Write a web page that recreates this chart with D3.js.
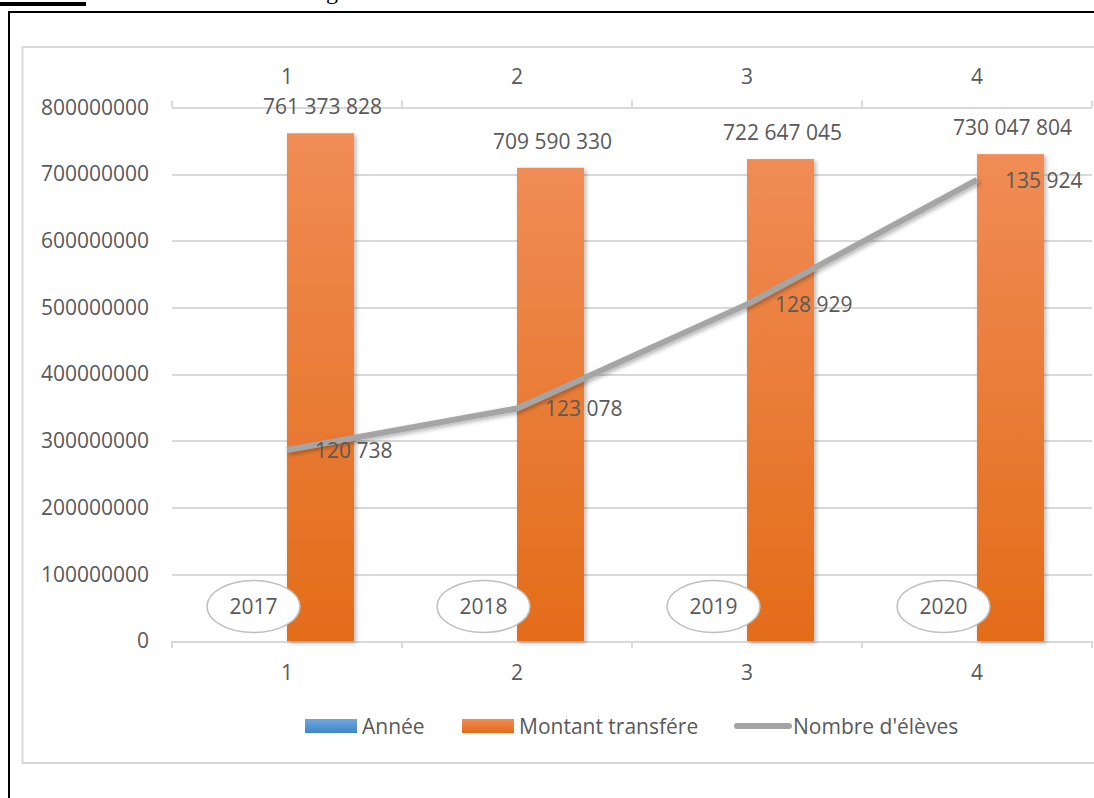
<!DOCTYPE html>
<html>
<head>
<meta charset="utf-8">
<script src="https://cdn.jsdelivr.net/npm/d3@7"></script>
<style>
  body { margin: 0; background: #fff; }
  svg text { font-family: "Open Sans", "Liberation Sans", sans-serif; fill: #595959; }
</style>
</head>
<body>
<svg id="chart" width="1094" height="798"></svg>
<script>
// data
var categories = ['1', '2', '3', '4'];
var years = [2017, 2018, 2019, 2020];
var montant = [761373828, 709590330, 722647045, 730047804];
var eleves = [120738, 123078, 128929, 135924];
var yTicks = [0, 100000000, 200000000, 300000000, 400000000, 500000000, 600000000, 700000000, 800000000];
var seriesNames = ['Année', 'Montant transfére', "Nombre d'élèves"];

var fmt = function(v) { return d3.format(',')(v).replace(/,/g, ' '); };

var svg = d3.select('#chart'),
	margin = {top: 107.5, right: 2, bottom: 157, left: 172},
	width = +svg.attr('width') - margin.left - margin.right,
	height = +svg.attr('height') - margin.top - margin.bottom;

var defs = svg.append('defs');
var og = defs.append('linearGradient').attr('id', 'orange').attr('x1', 0).attr('y1', 0).attr('x2', 0).attr('y2', 1);
og.append('stop').attr('offset', '0%').attr('stop-color', '#f08c55');
og.append('stop').attr('offset', '100%').attr('stop-color', '#e36c19');
var bg = defs.append('linearGradient').attr('id', 'blue').attr('x1', 0).attr('y1', 0).attr('x2', 0).attr('y2', 1);
bg.append('stop').attr('offset', '0%').attr('stop-color', '#6ea7dd');
bg.append('stop').attr('offset', '100%').attr('stop-color', '#3f86c8');
var sh = defs.append('filter').attr('id', 'shadow').attr('x', '-20%').attr('y', '-20%').attr('width', '140%').attr('height', '140%');
sh.append('feDropShadow').attr('dx', 2).attr('dy', 2).attr('stdDeviation', 2).attr('flood-color', '#000').attr('flood-opacity', 0.3);

// page decorations (document frame around the chart)
svg.append('rect').attr('x', 0).attr('y', 2).attr('width', 86).attr('height', 4).attr('fill', '#000');
svg.append('text').attr('x', 326).attr('y', -1)
	.style('font-family', '"Liberation Serif", serif').style('fill', '#000').attr('font-size', 24).text('g');
svg.append('path').attr('d', 'M9,798V12H1094').attr('fill', 'none').attr('stroke', '#000').attr('stroke-width', 2);
svg.append('rect').attr('x', 22.5).attr('y', 47).attr('width', 1100).attr('height', 716)
	.attr('fill', '#fff').attr('stroke', '#d9d9d9').attr('stroke-width', 2);

var x = d3.scaleBand().domain(categories).range([0, width]).padding(0),
	x1 = d3.scaleBand().domain([0, 1]).range([0, x.bandwidth()]).paddingOuter(0.716).paddingInner(0),
	y = d3.scaleLinear().domain([0, 800000000]).range([height, 0]),
	y2 = d3.scaleLinear().domain([110000, 140000]).range([height, 0]);

var g = svg.append('g')
	.attr('transform', 'translate(' + margin.left + ',' + margin.top + ')');

// gridlines
g.append('g').selectAll('line')
	.data(yTicks)
	.enter().append('line')
	.attr('x1', 0).attr('x2', width)
	.attr('y1', function(d) { return Math.round(y(d)) + 0.5; })
	.attr('y2', function(d) { return Math.round(y(d)) + 0.5; })
	.attr('stroke', '#d9d9d9').attr('stroke-width', 2);

// y axis labels
var yAxis = g.append('g')
	.call(d3.axisLeft(y).tickValues(yTicks).tickSize(0).tickPadding(23).tickFormat(d3.format('d')));
yAxis.select('.domain').remove();
yAxis.selectAll('text').attr('font-size', 21).style('fill', '#595959');

// bottom axis
var xAxis = g.append('g')
	.attr('transform', 'translate(0,' + height + ')')
	.call(d3.axisBottom(x).tickSize(0).tickPadding(24));
xAxis.select('.domain').remove();
xAxis.selectAll('text').attr('font-size', 21).style('fill', '#595959');
var bounds = categories.map(function(d) { return x(d); }).concat([width]);
g.append('line').attr('x1', 0).attr('x2', width).attr('y1', height + 1).attr('y2', height + 1)
	.attr('stroke', '#d9d9d9').attr('stroke-width', 2);
g.append('g').selectAll('line').data(bounds).enter().append('line')
	.attr('x1', function(d) { return d; }).attr('x2', function(d) { return d; })
	.attr('y1', height).attr('y2', height + 7)
	.attr('stroke', '#d9d9d9').attr('stroke-width', 2);

// top (secondary) axis
var xTop = g.append('g')
	.call(d3.axisTop(x).tickSize(0).tickPadding(24));
xTop.select('.domain').remove();
xTop.selectAll('text').attr('font-size', 21).style('fill', '#595959');
g.append('g').selectAll('line').data(bounds).enter().append('line')
	.attr('x1', function(d) { return d; }).attr('x2', function(d) { return d; })
	.attr('y1', 0).attr('y2', -7)
	.attr('stroke', '#d9d9d9').attr('stroke-width', 2);

// bars
var groups = g.selectAll('.cat')
	.data(categories)
	.enter().append('g')
	.attr('class', 'cat')
	.attr('transform', function(d) { return 'translate(' + x(d) + ',0)'; });

groups.append('rect')
	.attr('fill', 'url(#blue)')
	.attr('x', x1(0))
	.attr('width', x1.bandwidth())
	.attr('y', function(d, i) { return y(years[i]); })
	.attr('height', function(d, i) { return height - y(years[i]); });

groups.append('rect')
	.attr('fill', 'url(#orange)')
	.attr('filter', 'url(#shadow)')
	.attr('x', x1(1))
	.attr('width', x1.bandwidth())
	.attr('y', function(d, i) { return y(montant[i]); })
	.attr('height', function(d, i) { return height - y(montant[i]); });

groups.append('text')
	.attr('x', x1(1) + x1.bandwidth() / 2 + 2)
	.attr('y', function(d, i) { return y(montant[i]) - 19; })
	.attr('text-anchor', 'middle')
	.attr('font-size', 21)
	.text(function(d, i) { return fmt(montant[i]); });

// line
var line = d3.line()
	.x(function(d, i) { return x(categories[i]) + x.bandwidth() / 2; })
	.y(function(d) { return y2(d); });

g.append('path')
	.datum(eleves)
	.attr('fill', 'none')
	.attr('stroke', '#a5a5a5')
	.attr('stroke-width', 6)
	.attr('stroke-linejoin', 'round')
	.attr('filter', 'url(#shadow)')
	.attr('d', line);

g.selectAll('.lbl')
	.data(eleves)
	.enter().append('text')
	.attr('class', 'lbl')
	.attr('x', function(d, i) { return x(categories[i]) + x.bandwidth() / 2 + 28; })
	.attr('y', function(d) { return y2(d) + 8; })
	.attr('font-size', 21)
	.text(function(d) { return fmt(d); });

// year ellipses
var ell = groups.append('g')
	.attr('transform', function(d, i) { return 'translate(' + (x1(0) + x1.bandwidth() / 2) + ',' + (y(years[i]) - 34.5) + ')'; });
ell.append('ellipse').attr('rx', 46.5).attr('ry', 26)
	.attr('fill', '#fff').attr('stroke', '#bfbfbf').attr('stroke-width', 1.5);
ell.append('text').attr('text-anchor', 'middle').attr('y', 8).attr('font-size', 21)
	.text(function(d, i) { return years[i]; });

// legend
var legend = svg.append('g').attr('transform', 'translate(0,726)');
legend.append('rect').attr('x', 305).attr('y', -7).attr('width', 52).attr('height', 14).attr('fill', 'url(#blue)');
legend.append('text').attr('x', 362).attr('y', 7.5).attr('font-size', 21).text(seriesNames[0]);
legend.append('rect').attr('x', 462).attr('y', -7).attr('width', 52).attr('height', 14).attr('fill', 'url(#orange)');
legend.append('text').attr('x', 519).attr('y', 7.5).attr('font-size', 21).text(seriesNames[1]);
legend.append('line').attr('x1', 737).attr('x2', 789).attr('y1', 0).attr('y2', 0)
	.attr('stroke', '#a5a5a5').attr('stroke-width', 6).attr('stroke-linecap', 'round');
legend.append('text').attr('x', 793).attr('y', 7.5).attr('font-size', 21).text(seriesNames[2]);
</script>
</body>
</html>
